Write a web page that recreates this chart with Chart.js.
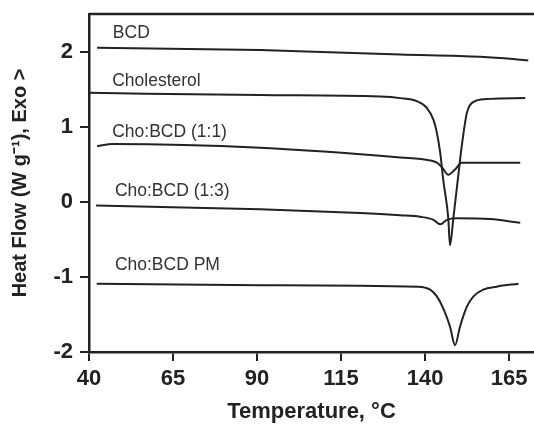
<html>
    <head>
        <script src="https://cdn.jsdelivr.net/npm/chart.js"></script>
        <style>
            body { margin: 0; background: #fff; }
        </style>
    </head>
    <body>
        <canvas id="dscChart" width="534" height="425"></canvas>
        <script type="text/javascript">
    // DSC traces (temperature in C, heat flow in W/g)
    const bcdT = [42.4, 90.9, 132.6, 156.4, 166.2, 170.7];
    const bcdHF = [2.05, 2.02, 1.96, 1.93, 1.90, 1.88];

    const cholT = [40.0, 90.9, 126.6, 132.6, 137.5, 140.5, 142.5, 143.5, 144.5, 145.4, 146.9, 147.4, 148.4, 149.9, 150.9, 152.4, 153.4, 155.4, 159.3, 169.8];
    const cholHF = [1.45, 1.42, 1.40, 1.38, 1.34, 1.25, 1.09, 0.92, 0.65, 0.29, -0.22, -0.58, -0.22, 0.36, 0.74, 1.18, 1.29, 1.35, 1.37, 1.38];

    const mix11T = [42.4, 47.1, 90.9, 132.6, 141.5, 143.5, 145.0, 146.9, 148.9, 150.9, 159.3, 168.3];
    const mix11HF = [0.74, 0.77, 0.72, 0.59, 0.55, 0.52, 0.46, 0.36, 0.43, 0.52, 0.52, 0.52];

    const mix13T = [42.1, 90.9, 120.7, 132.6, 138.5, 142.5, 144.5, 146.5, 149.4, 159.3, 168.3];
    const mix13HF = [-0.05, -0.10, -0.15, -0.18, -0.20, -0.24, -0.30, -0.24, -0.22, -0.23, -0.28];

    const pmT = [42.3, 90.9, 138.0, 141.5, 143.5, 145.4, 147.4, 148.9, 150.4, 152.4, 154.4, 157.3, 161.3, 167.8];
    const pmHF = [-1.09, -1.11, -1.13, -1.17, -1.26, -1.42, -1.66, -1.91, -1.66, -1.40, -1.26, -1.17, -1.13, -1.09];

    // curve labels and where they sit (data units)
    const curveNames = ['BCD', 'Cholesterol', 'Cho:BCD (1:1)', 'Cho:BCD (1:3)', 'Cho:BCD PM'];
    const nameT = [47.1, 46.9, 46.9, 47.7, 47.7];
    const nameHF = [2.25, 1.60, 0.93, 0.14, -0.85];

    const xTicks = [40, 65, 90, 115, 140, 165];
    const yTicks = [-2, -1, 0, 1, 2];

    function toPoints(xs, ys) {
        var pts = [];
        for(var i = 0; i < xs.length; ++i) {
            pts.push({x: xs[i], y: ys[i]});
        }
        return pts;
    }

    function trace(name, xs, ys) {
        return {
            label: name,
            data: toPoints(xs, ys),
            borderColor: '#222',
            borderWidth: 2,
            pointRadius: 0,
            fill: false,
            cubicInterpolationMode: 'monotone'
        };
    }

    // draws the curve names and the top frame line
    const decorations = {
        id: 'decorations',
        afterDatasetsDraw(chart) {
            const ctx = chart.ctx;
            const xs = chart.scales.x;
            const ys = chart.scales.y;
            const area = chart.chartArea;
            ctx.save();
            ctx.strokeStyle = '#222';
            ctx.lineWidth = 2.5;
            ctx.beginPath();
            ctx.moveTo(area.left, area.top);
            ctx.lineTo(area.right, area.top);
            ctx.stroke();
            ctx.fillStyle = '#333';
            ctx.font = '17.5px "Liberation Sans", Arial, sans-serif';
            ctx.textAlign = 'left';
            ctx.textBaseline = 'middle';
            for(var i = 0; i < curveNames.length; ++i) {
                ctx.fillText(curveNames[i], xs.getPixelForValue(nameT[i]), ys.getPixelForValue(nameHF[i]));
            }
            ctx.restore();
        }
    };

    const fontFamily = '"Liberation Sans", Arial, sans-serif';
    const tickFont = {family: fontFamily, size: 22, weight: 'bold'};

    const config = {
        type: 'line',
        data: {
            datasets: [
                trace('BCD', bcdT, bcdHF),
                trace('Cholesterol', cholT, cholHF),
                trace('Cho:BCD (1:1)', mix11T, mix11HF),
                trace('Cho:BCD (1:3)', mix13T, mix13HF),
                trace('Cho:BCD PM', pmT, pmHF)
            ]
        },
        options: {
            responsive: false,
            animation: false,
            layout: {padding: {top: 14, right: 0, left: 0, bottom: 0}},
            plugins: {
                legend: {display: false},
                tooltip: {enabled: false}
            },
            scales: {
                x: {
                    type: 'linear',
                    min: 40,
                    max: 172.4,
                    afterBuildTicks: function(scale) {
                        scale.ticks = xTicks.map(function(v) { return {value: v}; });
                    },
                    afterFit: function(scale) {
                        scale.height = 73;
                        scale.paddingLeft = 0;
                        scale.paddingRight = 0;
                    },
                    grid: {drawOnChartArea: false, drawTicks: true, tickLength: 9, color: '#222', lineWidth: 2},
                    border: {display: true, color: '#222', width: 2.5},
                    ticks: {color: '#222', font: tickFont, padding: 5, maxRotation: 0},
                    title: {
                        display: true,
                        text: 'Temperature, °C',
                        color: '#222',
                        font: {family: fontFamily, size: 22, weight: 'bold'},
                        padding: {top: 0, bottom: 0}
                    }
                },
                y: {
                    type: 'linear',
                    min: -2,
                    max: 2.5,
                    afterBuildTicks: function(scale) {
                        scale.ticks = yTicks.map(function(v) { return {value: v}; });
                    },
                    afterFit: function(scale) {
                        scale.width = 89;
                        scale.paddingTop = 0;
                        scale.paddingBottom = 0;
                    },
                    grid: {drawOnChartArea: false, drawTicks: true, tickLength: 9, color: '#222', lineWidth: 2},
                    border: {display: true, color: '#222', width: 2.5},
                    ticks: {color: '#222', font: tickFont, padding: 7},
                    title: {
                        display: true,
                        text: 'Heat Flow (W g\u207B\u00B9), Exo >',
                        color: '#222',
                        font: {family: fontFamily, size: 20, weight: 'bold'},
                        padding: {top: 8, bottom: 0}
                    }
                }
            }
        },
        plugins: [decorations]
    };

    var myChart = new Chart(document.getElementById('dscChart'), config);
        </script>
    </body>
</html>
